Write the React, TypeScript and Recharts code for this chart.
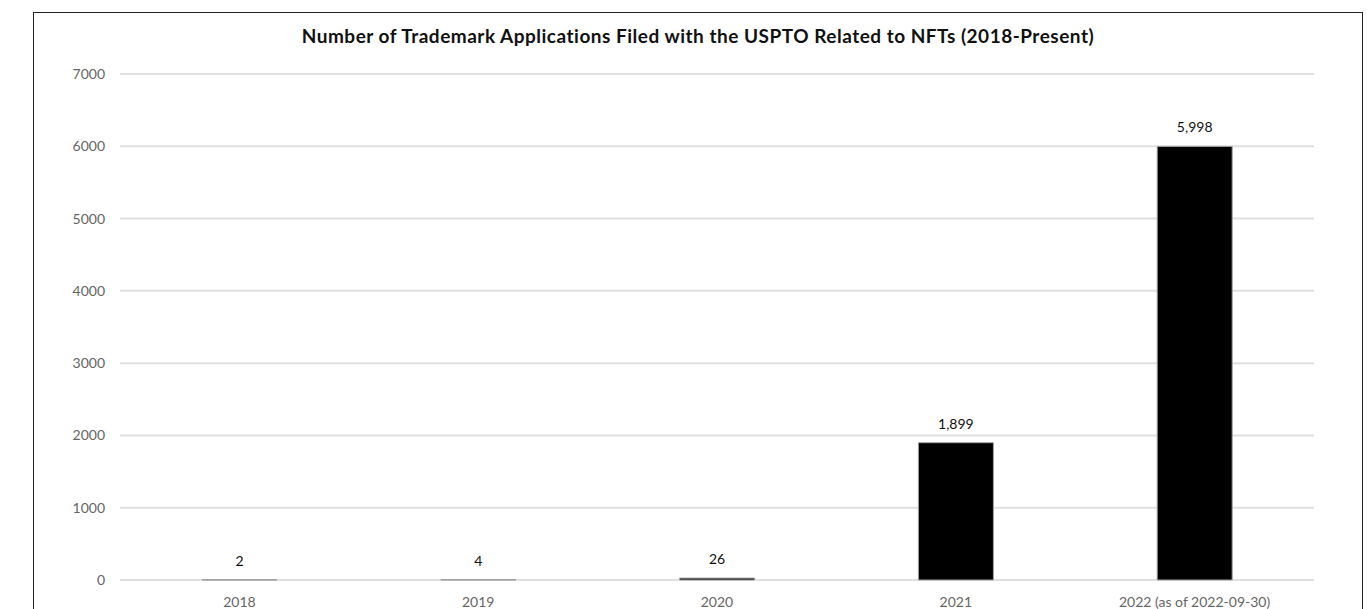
import { BarChart, Bar, XAxis, YAxis, CartesianGrid, LabelList } from 'recharts';

const years = ['2018', '2019', '2020', '2021', '2022 (as of 2022-09-30)'];
const filings = [2, 4, 26, 1899, 5998];
const yTicks = [0, 1000, 2000, 3000, 4000, 5000, 6000, 7000];
const title = 'Number of Trademark Applications Filed with the USPTO Related to NFTs (2018-Present)';

const data = years.map((year, i) => ({ year, value: filings[i] }));

const tickStyle = { fill: '#666', fontSize: 14, fontFamily: 'Lato, sans-serif' };

export default function App() {
  return (
    <div style={{ position: 'fixed', top: 0, left: 0, width: 1367, height: 609, background: '#fff', overflow: 'hidden' }}>
      <div style={{ position: 'absolute', left: 33, top: 12, width: 1328, height: 620, border: '1px solid #222' }} />
      <div
        style={{
          position: 'absolute',
          left: 0,
          width: 1396,
          top: 25,
          textAlign: 'center',
          fontFamily: 'Lato, sans-serif',
          fontWeight: 700,
          fontSize: 19,
          letterSpacing: 0.5,
          lineHeight: '22px',
          color: '#111',
        }}
      >
        {title}
      </div>
      <div style={{ position: 'absolute', left: 0, top: 0 }}>
        <BarChart width={1367} height={609} data={data} margin={{ top: 74, right: 53, bottom: 0, left: 0 }}>
          <CartesianGrid vertical={false} stroke="#e0e0e0" strokeWidth={2} />
          <XAxis dataKey="year" height={29} tickLine={false} axisLine={false} tickSize={0} tickMargin={17} tick={tickStyle} interval={0} />
          <YAxis
            width={120}
            domain={[0, 7000]}
            ticks={yTicks}
            tickLine={false}
            axisLine={false}
            tickSize={0}
            tickMargin={15}
            tick={tickStyle}
          />
          <Bar dataKey="value" fill="#000" stroke="#a0a0a0" strokeWidth={1} barSize={75} isAnimationActive={false}>
            <LabelList
              dataKey="value"
              position="top"
              offset={14}
              formatter={(v: number) => Number(v).toLocaleString('en-US')}
              style={{ fill: '#111', fontSize: 14, fontFamily: 'Lato, sans-serif' }}
            />
          </Bar>
        </BarChart>
      </div>
    </div>
  );
}
